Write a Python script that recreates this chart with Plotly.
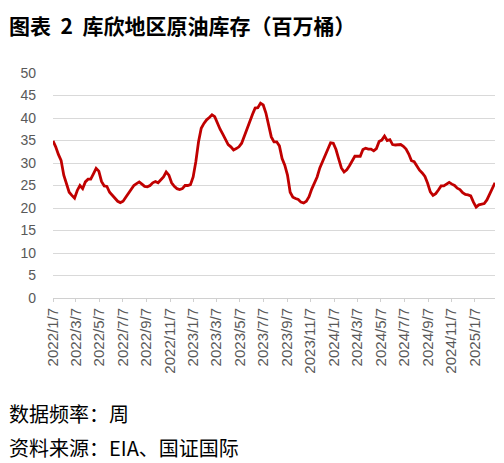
import plotly.graph_objects as go
import pandas as pd

start_date = "2022-01-07"
stocks = [
    34.9, 33.6, 31.9, 30.6, 27.3, 25.4, 23.5, 22.8, 22.2, 23.9,
    25.0, 24.3, 25.8, 26.4, 26.4, 27.6, 28.8, 28.2, 25.9, 24.9,
    24.8, 23.5, 22.8, 22.2, 21.5, 21.2, 21.5, 22.4, 23.3, 24.3,
    25.0, 25.4, 25.8, 25.3, 24.8, 24.7, 25.0, 25.6, 25.9, 25.6,
    26.2, 26.9, 28.0, 27.3, 25.6, 24.8, 24.3, 24.1, 24.3, 25.0,
    25.0, 25.2, 26.9, 30.3, 34.7, 37.7, 38.8, 39.6, 40.1, 40.7,
    40.3, 38.8, 37.5, 36.4, 35.1, 34.1, 33.6, 32.9, 33.2, 33.6,
    34.4, 36.1, 37.7, 39.2, 40.8, 42.2, 42.3, 43.3, 42.9, 41.1,
    38.1, 35.8, 34.7, 34.7, 33.8, 31.0, 29.5, 27.3, 23.5, 22.4,
    22.1, 21.9, 21.3, 21.1, 21.5, 22.5, 24.2, 25.5, 26.9, 28.9,
    30.4, 31.8, 33.3, 34.5, 34.4, 33.0, 30.9, 28.9, 28.0, 28.5,
    29.4, 30.6, 31.5, 31.5, 31.5, 33.0, 33.3, 33.1, 33.1, 32.7,
    33.2, 34.8, 35.1, 36.0, 35.0, 35.2, 34.1, 34.0, 34.0, 34.1,
    33.7, 33.1, 32.0, 30.5, 30.3, 29.2, 28.4, 27.8, 27.0, 25.5,
    23.6, 22.8, 23.2, 24.0, 24.9, 24.9, 25.3, 25.7, 25.3, 25.0,
    24.4, 24.1, 23.4, 23.0, 22.9, 22.7, 21.3, 20.2, 20.7, 20.8,
    21.0, 21.8, 23.2, 24.5, 25.6,
]
tick_dates = [
    "2022-01-07", "2022-03-07", "2022-05-07", "2022-07-07", "2022-09-07",
    "2022-11-07", "2023-01-07", "2023-03-07", "2023-05-07", "2023-07-07",
    "2023-09-07", "2023-11-07", "2024-01-07", "2024-03-07", "2024-05-07",
    "2024-07-07", "2024-09-07", "2024-11-07", "2025-01-07",
]
tick_labels = [
    "2022/1/7", "2022/3/7", "2022/5/7", "2022/7/7", "2022/9/7",
    "2022/11/7", "2023/1/7", "2023/3/7", "2023/5/7", "2023/7/7",
    "2023/9/7", "2023/11/7", "2024/1/7", "2024/3/7", "2024/5/7",
    "2024/7/7", "2024/9/7", "2024/11/7", "2025/1/7",
]
y_ticks = list(range(0, 51, 5))

title_text = "图表 2 库欣地区原油库存（百万桶）"
note_freq = "数据频率：周"
note_src = "资料来源：EIA、国证国际"

dates = pd.date_range(start_date, periods=len(stocks), freq="7D")

fig = go.Figure()
fig.add_trace(go.Scatter(
    x=dates, y=stocks, mode="lines",
    line=dict(color="#C00000", width=2.8),
    hoverinfo="skip",
))

cjk = "Noto Sans CJK SC"
PH = 225.0
PW = 442.0
fig.update_layout(
    width=504, height=463,
    margin=dict(l=45, r=17, t=65, b=173),
    paper_bgcolor="white", plot_bgcolor="white",
    showlegend=False,
    font=dict(family="Liberation Sans, Arial, sans-serif", color="#595959"),
    xaxis=dict(
        type="date",
        range=[dates[0], dates[-1]],
        tickmode="array", tickvals=tick_dates, ticktext=tick_labels,
        tickangle=-90, tickfont=dict(size=15, color="#595959"),
        showgrid=False, showline=True, linecolor="#d0d0d0", linewidth=1,
        ticks="outside", ticklen=3, tickcolor="#d0d0d0",
        zeroline=False, automargin=False,
    ),
    yaxis=dict(
        range=[0, 50], tickmode="array", tickvals=y_ticks,
        tickfont=dict(size=14, color="#595959"),
        showgrid=True, gridcolor="#d9d9d9", gridwidth=1,
        zeroline=False, showline=False, ticks="", ticklabelstandoff=16,
        automargin=False,
    ),
    annotations=[
        dict(text="<b>" + title_text.replace(" 2 ", "  2  ") + "</b>", xref="paper", yref="paper",
             x=-45/PW, y=1 + (65-17)/PH, xanchor="left", yanchor="middle",
             showarrow=False, borderpad=0,
             font=dict(family=cjk, size=21, color="#000000")),
        dict(text=note_freq, xref="paper", yref="paper",
             x=-45/PW, y=-(405-290)/PH, xanchor="left", yanchor="middle",
             showarrow=False, borderpad=0,
             font=dict(family=cjk, size=20, color="#000000")),
        dict(text=note_src, xref="paper", yref="paper",
             x=-45/PW, y=-(440-290)/PH, xanchor="left", yanchor="middle",
             showarrow=False, borderpad=0,
             font=dict(family=cjk, size=20, color="#000000")),
    ],
)

fig.write_html("out.html")
